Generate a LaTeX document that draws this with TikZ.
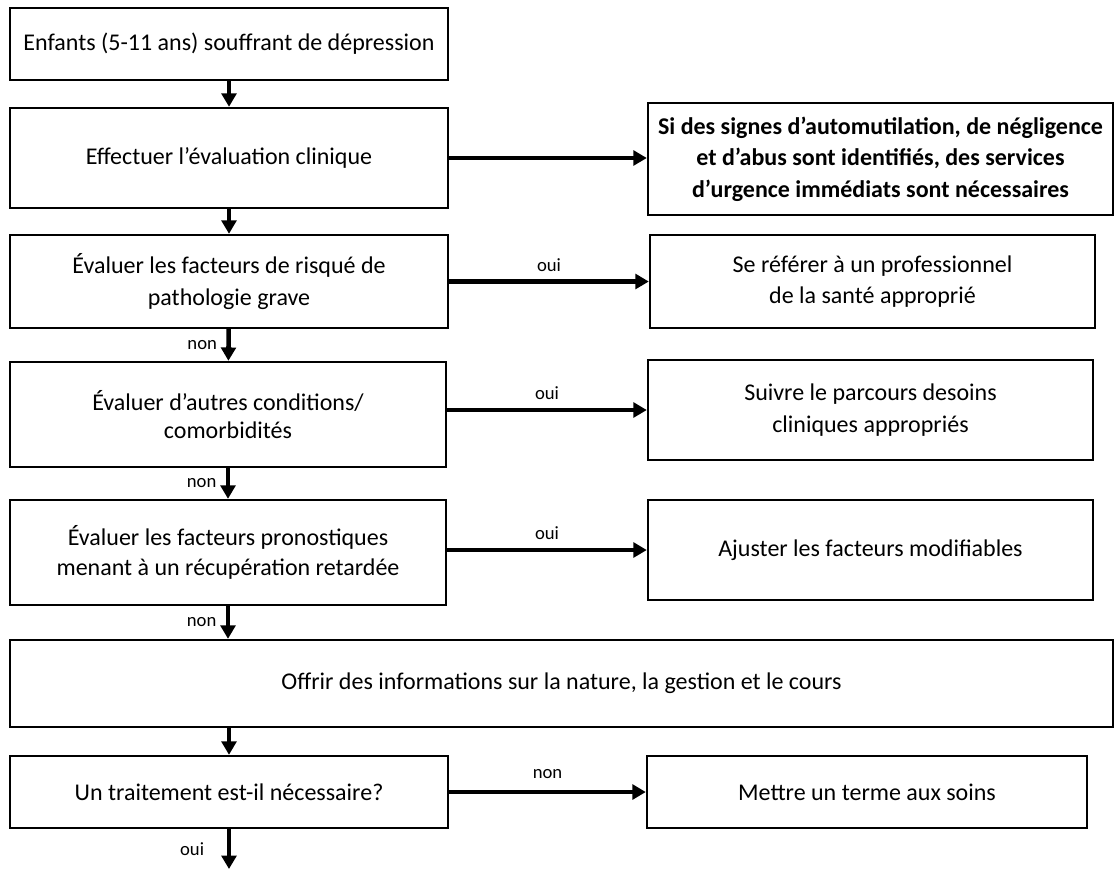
\documentclass[tikz,border=0pt]{standalone}
\usepackage{fontspec}
\setmainfont{Carlito}
\usepackage{xcolor}
\usepackage{tikz}
\usetikzlibrary{positioning,arrows.meta}
\tikzset{
  box/.style={draw, line width=1.8pt, fill=white, align=center, inner sep=2pt, font=\fontsize{18}{23.5}\selectfont},
  alert/.style={box, font=\fontsize{18}{23.5}\selectfont\bfseries},
  flow/.style={-{Triangle[length=10pt, width=11pt]}, line width=3.4pt},
  fl/.style={font=\fontsize{14}{16}\selectfont, inner sep=1pt},
}

\begin{document}
\begin{tikzpicture}[x=0.75pt, y=-0.75pt]
\useasboundingbox (0,0) rectangle (1119,871);
\node[box, minimum width=328.5pt, minimum height=54pt] (child) at (229,44) {Enfants (5-11 ans) souffrant de dépression};
\node[box, minimum width=328.5pt, minimum height=75pt] (eval) at (229,158) {Effectuer l’évaluation clinique};
\node[alert, minimum width=348.75pt, minimum height=84pt] (urg) at (880.5,159) {Si des signes d’automutilation, de négligence\\et d’abus sont identifiés, des services\\d’urgence immédiats sont nécessaires};
\node[box, minimum width=328.5pt, minimum height=69.75pt] (risk) at (229,281.5) {Évaluer les facteurs de risqué de\\pathologie grave};
\node[box, minimum width=333.75pt, minimum height=69.75pt] (refer) at (872.5,281.5) {Se référer à un professionnel\\de la santé approprié};
\node[box, minimum width=327pt, minimum height=78.75pt, font=\fontsize{18}{20.5}\selectfont] (comorb) at (228,414.5) {Évaluer d’autres conditions/\\comorbidités};
\node[box, minimum width=333.75pt, minimum height=75pt] (path) at (870.5,410) {Suivre le parcours desoins\\cliniques appropriés};
\node[box, minimum width=327pt, minimum height=78.75pt, font=\fontsize{18}{22.5}\selectfont] (prog) at (228,552.5) {Évaluer les facteurs pronostiques\\menant à un récupération retardée};
\node[box, minimum width=333.75pt, minimum height=75pt] (adjust) at (870.5,550) {Ajuster les facteurs modifiables};
\node[box, minimum width=827.25pt, minimum height=65.25pt] (info) at (561.5,683.5) {Offrir des informations sur la nature, la gestion et le cours};
\node[box, minimum width=328.5pt, minimum height=54pt] (treat) at (229,792) {Un traitement est-il nécessaire?};
\node[box, minimum width=330pt, minimum height=54pt] (stop) at (867,792) {Mettre un terme aux soins};
\coordinate (next) at (229,869);
\draw[flow] (child) -- (eval);
\draw[flow] (eval) -- (urg.west |- eval.east);
\draw[flow] (eval) -- (risk);
\draw[flow] (risk) -- (refer) node[fl,pos=0.5,above=5pt]{oui};
\draw[flow] (risk) -- (comorb) node[fl,pos=0.5,left=6pt]{non};
\draw[flow] (comorb.east |- path.west) -- (path) node[fl,pos=0.5,above=5pt]{oui};
\draw[flow] (comorb) -- (prog) node[fl,pos=0.5,left=6pt]{non};
\draw[flow] (prog.east |- adjust.west) -- (adjust) node[fl,pos=0.5,above=5pt]{oui};
\draw[flow] (prog.south) -- (prog.south |- info.north) node[fl,pos=0.5,left=6pt]{non};
\draw[flow] (treat.north |- info.south) -- (treat);
\draw[flow] (treat) -- (stop) node[fl,pos=0.5,above=7pt]{non};
\draw[flow] (treat) -- (next) node[fl,pos=0.5,left=16pt]{oui};
\end{tikzpicture}
\end{document}
